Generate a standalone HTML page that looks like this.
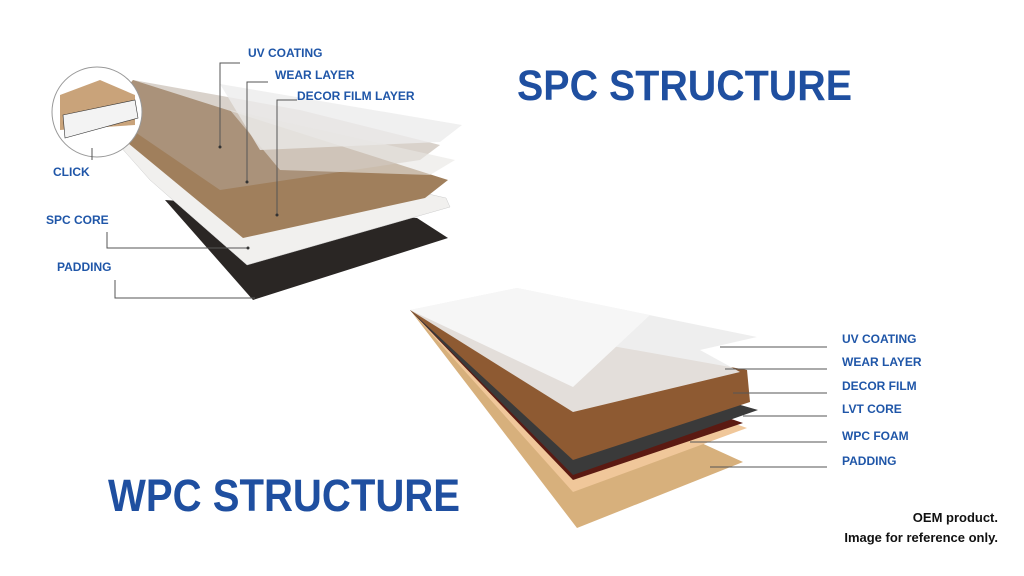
<!DOCTYPE html>
<html><head><style>
body{margin:0;background:#fff;}
svg{display:block;font-family:"Liberation Sans",sans-serif;}
.l{font-weight:bold;font-size:12px;fill:#1f56a8;}
.t{font-weight:bold;fill:#1f4fa0;}
.ln{stroke:#555;stroke-width:1;fill:none;}
</style></head><body>
<svg width="1024" height="576" viewBox="0 0 1024 576">
<!-- SPC -->
<polygon points="165,200 417,218 448,238 253,300" fill="#2a2624"/>
<polygon points="95,118 446,198 450,207 247,265 150,180" fill="#f1f0ee" stroke="#ccc" stroke-width="0.5"/>
<polygon points="133,80 448,180 425,198 243,238 100,120" fill="#a07f5c"/>
<polygon points="133,80 300,110 440,145 420,160 220,190 110,115" fill="#b3a597" opacity="0.5"/>
<polygon points="220,84 462,125 440,142 260,150" fill="#ececec" opacity="0.8"/>
<polygon points="230,110 455,160 430,175 280,170" fill="#e8e6e3" opacity="0.6"/>
<circle cx="97" cy="112" r="45" fill="#fff" stroke="#999" stroke-width="1"/>
<polygon points="60,95 100,80 135,95 135,125 60,130" fill="#c9a37a"/>
<polygon points="63,115 135,100 138,118 65,138" fill="#f3f3f3" stroke="#333" stroke-width="0.6"/>
<text class="l" x="248" y="57">UV COATING</text>
<text class="l" x="275" y="79">WEAR LAYER</text>
<text class="l" x="297" y="100">DECOR FILM LAYER</text>
<text class="l" x="53" y="176">CLICK</text>
<text class="l" x="46" y="224">SPC CORE</text>
<text class="l" x="57" y="271">PADDING</text>
<polyline class="ln" points="240,63 220,63 220,147"/>
<polyline class="ln" points="268,82 247,82 247,182"/>
<polyline class="ln" points="297,100 277,100 277,215"/>
<polyline class="ln" points="92,148 92,160"/>
<polyline class="ln" points="107,232 107,248 248,248"/>
<polyline class="ln" points="115,280 115,298 255,298"/>
<circle cx="220" cy="147" r="1.5" fill="#333"/><circle cx="247" cy="182" r="1.5" fill="#333"/><circle cx="277" cy="215" r="1.5" fill="#333"/><circle cx="248" cy="248" r="1.5" fill="#333"/>
<text class="t" x="517" y="100" font-size="43" textLength="335" lengthAdjust="spacingAndGlyphs">SPC STRUCTURE</text>
<!-- WPC -->
<polygon points="410,310 743,462 577,528" fill="#d7b07c"/>
<polygon points="410,310 747,428 573,492" fill="#f0c79a"/>
<polygon points="410,310 743,423 573,480" fill="#5b1a12"/>
<polygon points="410,310 758,410 573,475" fill="#3a3a3a"/>
<polygon points="410,310 747,370 750,402 573,460" fill="#8e5a32"/>
<polygon points="410,310 517,288 757,337 700,350 740,372 573,412" fill="#ececec" opacity="0.9"/>
<polygon points="410,310 517,288 650,315 573,387" fill="#f6f6f6"/>
<g class="ln" stroke="#666">
<line x1="720" y1="347" x2="827" y2="347"/>
<line x1="725" y1="369" x2="827" y2="369"/>
<line x1="733" y1="393" x2="827" y2="393"/>
<line x1="743" y1="416" x2="827" y2="416"/>
<line x1="690" y1="442" x2="827" y2="442"/>
<line x1="710" y1="467" x2="827" y2="467"/>
</g>
<text class="l" x="842" y="343">UV COATING</text>
<text class="l" x="842" y="366">WEAR LAYER</text>
<text class="l" x="842" y="390">DECOR FILM</text>
<text class="l" x="842" y="413">LVT CORE</text>
<text class="l" x="842" y="440">WPC FOAM</text>
<text class="l" x="842" y="465">PADDING</text>
<text class="t" x="108" y="511" font-size="45" textLength="352" lengthAdjust="spacingAndGlyphs">WPC STRUCTURE</text>
<text x="998" y="522" text-anchor="end" font-size="13" font-weight="bold" fill="#111">OEM product.</text>
<text x="998" y="542" text-anchor="end" font-size="13" font-weight="bold" fill="#111">Image for reference only.</text>
</svg>
</body></html>
